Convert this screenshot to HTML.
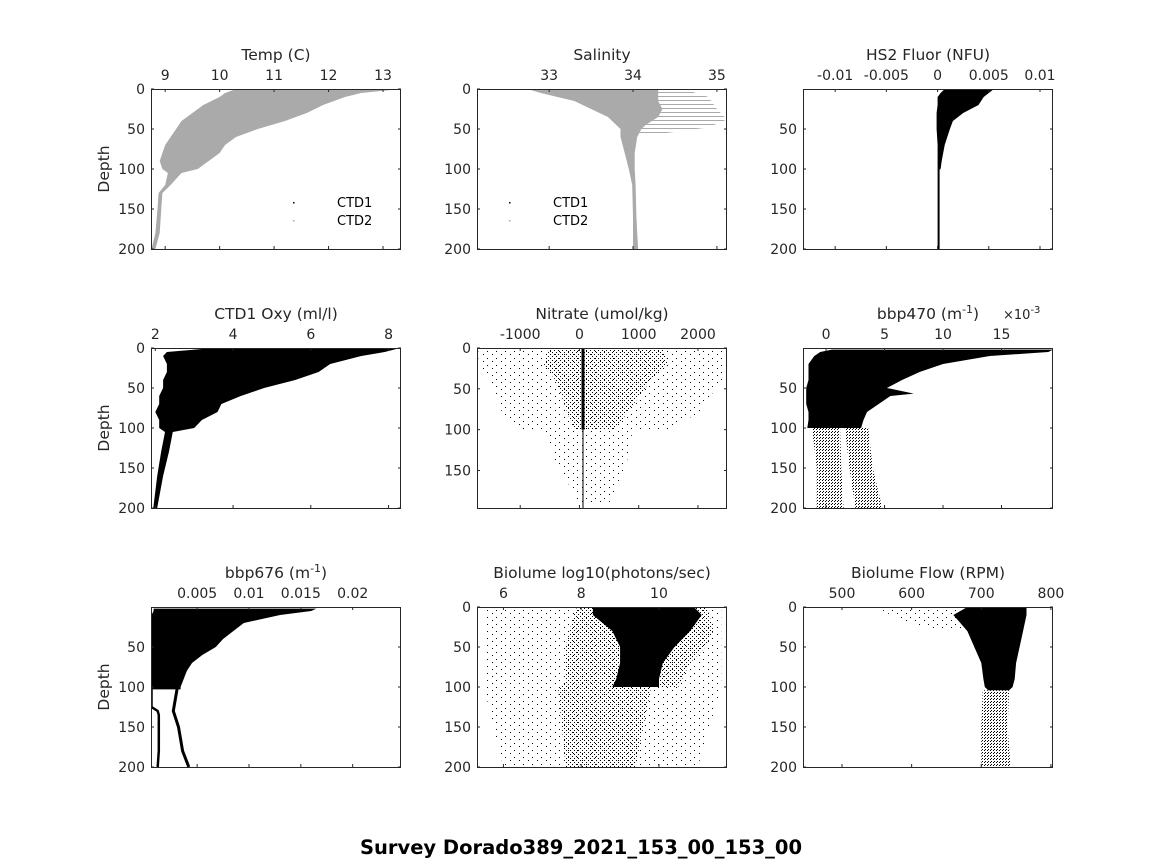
<!DOCTYPE html>
<html><head><meta charset="utf-8"><style>
html,body{margin:0;padding:0;background:#fff;}
svg{display:block;font-family:"DejaVu Sans","Liberation Sans",sans-serif;}
</style></head><body>
<svg id="fig" width="1164" height="864" viewBox="0 0 1164 864" xmlns="http://www.w3.org/2000/svg">
<defs>
<pattern id="pdense" width="3" height="3" patternUnits="userSpaceOnUse"><rect x="0" y="0" width="1" height="1" fill="#000"/><rect x="1" y="2" width="1" height="1" fill="#000"/></pattern>
<pattern id="pmid" width="4" height="4" patternUnits="userSpaceOnUse"><rect x="0" y="0" width="1" height="1" fill="#000"/><rect x="2" y="2" width="1" height="1" fill="#000"/></pattern>
<pattern id="psparse" width="9" height="7" patternUnits="userSpaceOnUse"><rect x="1" y="1" width="1" height="1" fill="#000"/><rect x="6" y="4" width="1" height="1" fill="#000"/></pattern>
<pattern id="pgray" width="4" height="4" patternUnits="userSpaceOnUse"><rect x="0" y="0" width="4" height="1" fill="#aaa"/></pattern>
</defs>
<text x="581" y="854" text-anchor="middle" font-size="19.5" font-weight="bold" fill="#000">Survey Dorado389_2021_153_00_153_00</text>
</svg>
<script>
// ---- data (depth, lower value, upper value) ----
const tempDepth=[0,5,10,20,30,40,50,60,70,80,90,100,105,120,130,150,180,200];
const tempLo=[10.3,10.1,10.0,9.7,9.5,9.3,9.2,9.1,9.0,8.95,8.9,8.95,9.05,9.0,8.88,8.86,8.82,8.75];
const tempHi=[13.33,12.6,12.3,11.9,11.6,11.2,10.7,10.3,10.1,10.0,9.8,9.6,9.3,9.1,8.95,8.93,8.9,8.82];
const salDepth=[0,5,15,25,35,45,50,60,80,100,120,160,200];
const salLo=[32.74,32.9,33.3,33.5,33.7,33.8,33.85,33.85,33.9,33.95,33.99,34.0,34.0];
const salHi=[34.3,34.3,34.3,34.35,34.3,34.15,34.1,34.05,34.02,34.02,34.03,34.04,34.06];
const salFanDepth=[0,10,25,38,48,55];
const salFanLo=[33.9,33.95,34.0,34.0,34.0,34.0];
const salFanHi=[34.6,34.9,35.0,35.12,34.9,34.4];
const fluDepth=[0,5,10,20,30,40,50,70,90,100,101,200];
const fluLo=[0.0007,0.0003,0.0,0.0,-0.0001,-0.0001,-0.0001,0.0,0.0,0.0,0.0,0.0];
const fluHi=[0.0055,0.005,0.0045,0.004,0.0025,0.0015,0.0012,0.0007,0.0004,0.0003,0.0002,0.0002];
const oxyDepth=[0,5,10,20,30,40,50,60,70,80,90,100,105,130,160,200];
const oxyLo=[3.5,2.3,2.2,2.3,2.3,2.2,2.2,2.1,2.1,2.0,2.1,2.1,2.25,2.15,2.05,1.95];
const oxyHi=[8.3,7.9,7.3,6.5,6.2,5.6,4.8,4.2,3.7,3.6,3.2,3.0,2.45,2.35,2.2,2.05];
const nitDepth=[0,20,40,60,80,100];
const nitDenseLo=[-500,-600,-400,-300,-200,-100];
const nitDenseHi=[1400,1500,1200,1000,800,600];
const nitSparseLo=[-1700,-1700,-1500,-1400,-1300,-1000];
const nitSparseHi=[2450,2450,2400,2200,2000,1500];
const nitDeepDepth=[100,140,190];
const nitDeepLo=[-600,-400,0];
const nitDeepHi=[900,800,500];
const b470Depth=[2,5,10,20,30,40,50,57,60,70,80,90,100];
const b470Lo=[0.5,-0.5,-1.0,-1.5,-1.5,-1.5,-1.7,-1.7,-1.7,-1.7,-1.5,-1.5,-1.6];
const b470Hi=[19.4,19.0,14,10,8,6.5,5.2,7.5,5.5,4.5,3.5,3.2,3.0];
const b470ColDepth=[100,150,200];
const b470ColALo=[-1.2,-0.8,-0.8];
const b470ColAHi=[1.2,1.3,1.5];
const b470ColBLo=[1.6,2.0,2.5];
const b470ColBHi=[3.6,4.0,4.8];
const b676Depth=[2,5,10,20,30,40,50,60,70,80,90,100,103];
const b676Lo=[0.0008,0.0008,0.0006,0.0006,0.0006,0.0006,0.0006,0.0006,0.0006,0.0006,0.0006,0.0006,0.0006];
const b676Hi=[0.0165,0.016,0.013,0.0095,0.0085,0.0075,0.0068,0.0055,0.0045,0.0040,0.0037,0.0034,0.0034];
const b676LineADepth=[103,125,130,135,180,200];
const b676LineA=[0.0006,0.0006,0.0012,0.0013,0.0013,0.0012];
const b676LineBDepth=[100,130,150,180,200];
const b676LineB=[0.0031,0.0027,0.0032,0.0036,0.0042];
const bioDepth=[0,10,30,50,70,90,100];
const bioLo=[8.3,8.3,8.8,9.0,9.0,8.9,8.8];
const bioHi=[10.9,11.1,10.8,10.4,10.1,10.0,10.0];
const bioMidLo=[7.9,7.8,7.7,7.6,7.6,7.6,7.5];
const bioMidHi=[11.2,11.3,11.4,11.2,10.8,10.6,10.5];
const bioSparseDepth=[0,100,200];
const bioSparseLo=[5.5,5.5,6.0];
const bioSparseHi=[11.6,11.6,11.0];
const bioDeepDepth=[100,150,200];
const bioDeepLo=[7.4,7.5,7.6];
const bioDeepHi=[9.8,9.6,9.4];
const flowDepth=[0,10,30,50,70,90,100,104];
const flowLo=[680,660,680,690,700,703,705,710];
const flowHi=[765,765,760,755,750,748,745,740];
const flowColDepth=[104,150,200];
const flowColLo=[702,700,700];
const flowColHi=[740,738,742];
const flowSparseDepth=[0,15,30];
const flowSparseLo=[550,580,640];
const flowSparseHi=[680,670,690];

const svg=document.getElementById('fig');
const NS='http://www.w3.org/2000/svg';
function mk(tag,attrs,parent){const e=document.createElementNS(NS,tag);for(const k in attrs)e.setAttribute(k,attrs[k]);(parent||svg).appendChild(e);return e;}

function panel(p){
  const g=mk('g',{});
  
  
  const W=250,H=160;
  const sx=v=>p.x0+(v-p.xmin)/(p.xmax-p.xmin)*W;
  const sy=d=>p.y0+(d-(p.ymin||0))/(p.ymax-(p.ymin||0))*H;
  p.sx=sx;p.sy=sy;p.g=g;
  const clip=mk('clipPath',{id:'c'+p.name},g);
  mk('rect',{x:p.x0,y:p.y0,width:W,height:H},clip);
  p.layer=mk('g',{'clip-path':'url(#c'+p.name+')'},g);
  return p;
}
function band(p,depth,lo,hi,fill,name){
  let pts=[];
  for(let i=0;i<depth.length;i++)pts.push(p.sx(lo[i]).toFixed(1)+','+p.sy(depth[i]).toFixed(1));
  for(let i=depth.length-1;i>=0;i--)pts.push(p.sx(hi[i]).toFixed(1)+','+p.sy(depth[i]).toFixed(1));
  const e=mk('polygon',{points:pts.join(' '),fill:fill},p.layer);
  
  
  return e;
}
function line(p,depth,vals,color,w,name){
  const pts=depth.map((d,i)=>p.sx(vals[i]).toFixed(1)+','+p.sy(d).toFixed(1));
  const e=mk('polyline',{points:pts.join(' '),fill:'none',stroke:color,'stroke-width':w},p.layer);
  
  
}
function axes(p){
  const g=p.g,W=250,H=160;
  const box=mk('rect',{x:p.x0+0.5,y:p.y0+0.5,width:W-1,height:H,fill:'none',stroke:'#262626','stroke-width':1},g);
  
  
  p.xticks.forEach((v,i)=>{
    const x=p.sx(v);
    mk('line',{x1:x,y1:p.y0,x2:x,y2:p.y0+3,stroke:'#262626'},g);
    mk('line',{x1:x,y1:p.y0+H,x2:x,y2:p.y0+H-3,stroke:'#262626'},g);
    const t=mk('text',{x:x,y:p.y0-9,'text-anchor':'middle','font-size':14,fill:'#262626'},g);
    t.textContent=p.xlabels[i];
    
    
  });
  p.yticks.forEach(v=>{
    const y=p.sy(v);
    mk('line',{x1:p.x0,y1:y,x2:p.x0+3,y2:y,stroke:'#262626'},g);
    mk('line',{x1:p.x0+W,y1:y,x2:p.x0+W-3,y2:y,stroke:'#262626'},g);
    const t=mk('text',{x:p.x0-6,y:y+5,'text-anchor':'end','font-size':14,fill:'#262626'},g);
    t.textContent=String(v);
    
    
  });
  const tt=mk('text',{x:p.x0+W/2,y:p.y0-29,'text-anchor':'middle','font-size':15.5,fill:'#262626'},g);
  tt.innerHTML=p.title;
  
  
  if(p.depthLabel){
    const d=mk('text',{x:0,y:0,'text-anchor':'middle','font-size':15.5,fill:'#262626',transform:'translate(109,'+(p.y0+H/2)+') rotate(-90)'},g);
    d.textContent='Depth';
    
    
  }
}
function legend(p,x,y){
  [['CTD1','#000'],['CTD2','#aaa']].forEach((l,i)=>{
    const gg=mk('g',{},p.g);
    
    
    mk('rect',{x:x-44,y:y+i*18-5,width:1.5,height:1.5,fill:l[1]},gg);
    const t=mk('text',{x:x,y:y+i*18,'font-size':13,fill:'#000'},gg);
    t.textContent=l[0];
  });
}
const sup=s=>'<tspan font-size="11" dy="-6">'+s+'</tspan><tspan dy="6">)</tspan>';

// Temp
let p=panel({name:'temp-panel',x0:151,y0:89,xmin:8.74,xmax:13.33,ymax:200,xticks:[9,10,11,12,13],xlabels:['9','10','11','12','13'],yticks:[0,50,100,150,200],title:'Temp (C)',depthLabel:true});
band(p,tempDepth,tempLo,tempHi,'#aaaaaa','temp-ctd2-band');
axes(p);legend(p,337,207);
// Salinity
p=panel({name:'salinity-panel',x0:477,y0:89,xmin:32.14,xmax:35.12,ymax:200,xticks:[33,34,35],xlabels:['33','34','35'],yticks:[0,50,100,150,200],title:'Salinity'});
band(p,salFanDepth,salFanLo,salFanHi,'url(#pgray)','salinity-fan');
band(p,salDepth,salLo,salHi,'#aaaaaa','salinity-ctd2-band');
axes(p);legend(p,553,207);
// Fluor
p=panel({name:'fluor-panel',x0:803,y0:89,xmin:-0.01314,xmax:0.01127,ymax:200,xticks:[-0.01,-0.005,0,0.005,0.01],xlabels:['-0.01','-0.005','0','0.005','0.01'],yticks:[50,100,150,200],title:'HS2 Fluor (NFU)'});
band(p,fluDepth,fluLo,fluHi,'#000','fluor-band');
axes(p);
// Oxy
p=panel({name:'oxy-panel',x0:151,y0:348,xmin:1.89,xmax:8.32,ymax:200,xticks:[2,4,6,8],xlabels:['2','4','6','8'],yticks:[0,50,100,150,200],title:'CTD1 Oxy (ml/l)',depthLabel:true});
band(p,oxyDepth,oxyLo,oxyHi,'#000','oxy-band');
axes(p);
// Nitrate
p=panel({name:'nitrate-panel',x0:477,y0:348,xmin:-1729,xmax:2490,ymax:196,xticks:[-1000,0,1000,2000],xlabels:['-1000','0','1000','2000'],yticks:[0,50,100,150],title:'Nitrate (umol/kg)'});
band(p,nitDepth,nitSparseLo,nitSparseHi,'url(#psparse)','nitrate-sparse');
band(p,nitDepth,nitDenseLo,nitDenseHi,'url(#pmid)','nitrate-dense');
band(p,nitDeepDepth,nitDeepLo,nitDeepHi,'url(#psparse)','nitrate-deep');
line(p,[0,100],[60,60],'#000',3,'nitrate-core');
line(p,[100,196],[60,60],'#000',1,'nitrate-core-deep');
axes(p);
// bbp470
p=panel({name:'bbp470-panel',x0:803,y0:348,xmin:-1.97,xmax:19.4,ymax:200,xticks:[0,5,10,15],xlabels:['0','5','10','15'],yticks:[50,100,150,200],title:'bbp470 (m'+sup('-1')});
band(p,b470Depth,b470Lo,b470Hi,'#000','bbp470-band');
band(p,b470ColDepth,b470ColALo,b470ColAHi,'url(#pdense)','bbp470-col-a');
band(p,b470ColDepth,b470ColBLo,b470ColBHi,'url(#pdense)','bbp470-col-b');
axes(p);
{const t=mk('text',{x:1003,y:319,'font-size':13,fill:'#262626'},p.g);t.innerHTML='×10<tspan font-size="10" dy="-6">-3</tspan>';}
// bbp676
p=panel({name:'bbp676-panel',x0:151,y0:607,xmin:0.00055,xmax:0.02466,ymax:200,xticks:[0.005,0.01,0.015,0.02],xlabels:['0.005','0.01','0.015','0.02'],yticks:[50,100,150,200],title:'bbp676 (m'+sup('-1'),depthLabel:true});
band(p,b676Depth,b676Lo,b676Hi,'#000','bbp676-band');
line(p,b676LineADepth,b676LineA,'#000',2.5,'bbp676-line-a');
line(p,b676LineBDepth,b676LineB,'#000',3,'bbp676-line-b');
axes(p);
// Biolume
p=panel({name:'biolume-panel',x0:477,y0:607,xmin:5.32,xmax:11.75,ymax:200,xticks:[6,8,10],xlabels:['6','8','10'],yticks:[0,50,100,150,200],title:'Biolume log10(photons/sec)'});
band(p,bioSparseDepth,bioSparseLo,bioSparseHi,'url(#psparse)','biolume-sparse');
band(p,bioDepth,bioMidLo,bioMidHi,'url(#pmid)','biolume-mid');
band(p,bioDeepDepth,bioDeepLo,bioDeepHi,'url(#pmid)','biolume-deep');
band(p,bioDepth,bioLo,bioHi,'#000','biolume-dense');
axes(p);
// Flow
p=panel({name:'flow-panel',x0:803,y0:607,xmin:444,xmax:803,ymax:200,xticks:[500,600,700,800],xlabels:['500','600','700','800'],yticks:[0,50,100,150,200],title:'Biolume Flow (RPM)'});
band(p,flowSparseDepth,flowSparseLo,flowSparseHi,'url(#psparse)','flow-sparse');
band(p,flowColDepth,flowColLo,flowColHi,'url(#pdense)','flow-column');
band(p,flowDepth,flowLo,flowHi,'#000','flow-dense');
axes(p);
</script>
</body></html>
